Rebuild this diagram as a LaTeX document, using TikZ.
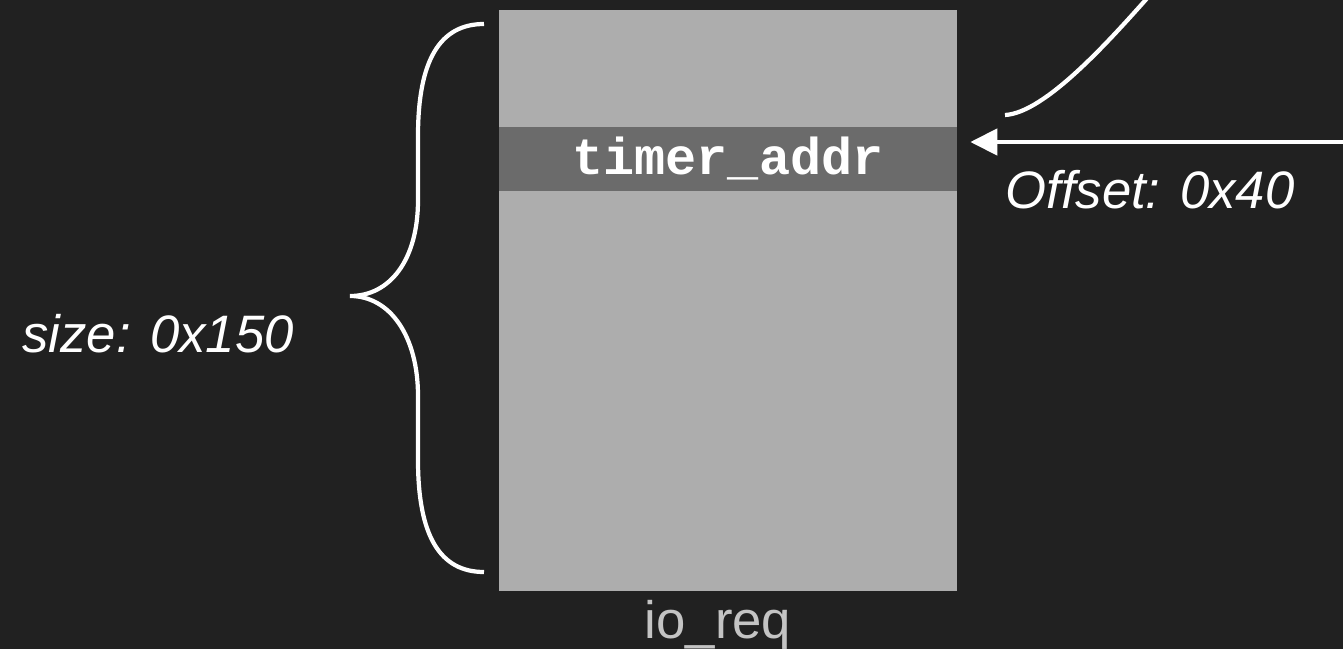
\documentclass[tikz,border=0pt]{standalone}
\usepackage{fontspec}
\setmainfont{Liberation Sans}
\newfontfamily\codefont{Liberation Mono}
\usetikzlibrary{arrows.meta}
\definecolor{bgdark}{HTML}{212121}
\definecolor{structgray}{HTML}{ADADAD}
\definecolor{fieldgray}{HTML}{6B6B6B}
\definecolor{namegray}{HTML}{C4C4C4}
\tikzset{
  structbox/.style={fill=structgray, minimum width=9.16cm, minimum height=11.62cm, inner sep=0pt},
  fieldbox/.style={fill=fieldgray, minimum width=9.16cm, minimum height=1.28cm, inner sep=0pt,
    text=white, font=\codefont\bfseries\fontsize{29.5}{35}\selectfont},
  annot/.style={text=white, font=\itshape\fontsize{30}{36}\selectfont, inner sep=0pt},
  wire/.style={white, line width=2.6pt}
}
\begin{document}
\begin{tikzpicture}[x=0.02cm, y=-0.02cm, >={Triangle[length=0.54cm, width=0.52cm]}]
        \fill[bgdark] (0,0) rectangle (1343,649);
        \useasboundingbox (0,0) rectangle (1343,649);
        \node[structbox] (ioreq) at (728,300.5) {};
        \node[fieldbox] (timeraddr) at (728,159) {timer\_addr};
        \node[annot, text=namegray, font=\fontsize{30}{36}\selectfont, anchor=base] (reqname) at (718,638) {io\_req};
        \node[annot, anchor=base west] (sizelbl) at (22,352) {size: 0x150};
        \node[annot, anchor=base west] (offlbl) at (1005,208) {Offset: 0x40};
        \coordinate (ptrsrc) at (1343,142);
        \draw[wire, ->, shorten >=0.26cm] (ptrsrc) -- (ptrsrc -| timeraddr.east);
        \draw[wire, line width=2.4pt] (1005,115) .. controls (1045,113) and (1110,40) .. (1150,-5);
        \draw[wire, line width=2.4pt] (484,24) .. controls (440,24) and (418,60) .. (418,136) -- (418,200)
            .. controls (418,260) and (390,296) .. (350,296)
            .. controls (390,296) and (418,336) .. (418,396) -- (418,460)
            .. controls (418,536) and (440,572) .. (484,572);
\end{tikzpicture}
\end{document}
